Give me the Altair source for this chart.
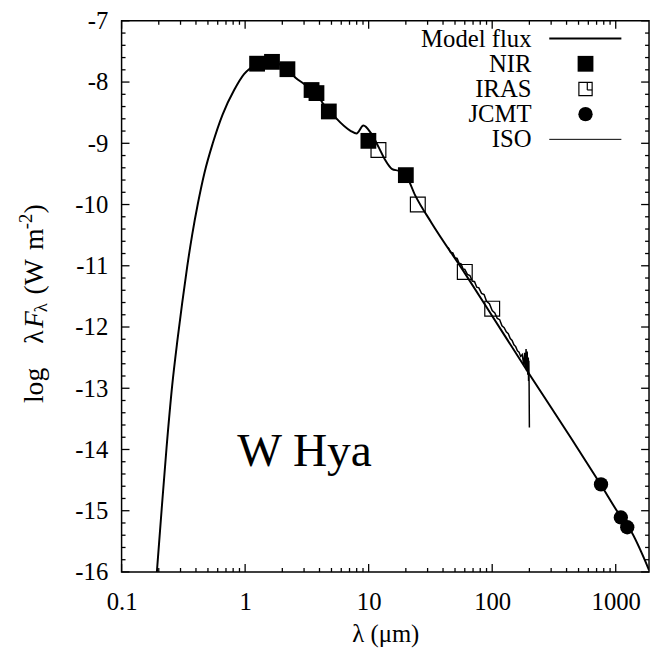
import altair as alt
import pandas as pd

# ---------------- data ----------------
model_wl = [0.193, 0.211, 0.231, 0.257, 0.283, 0.309, 0.34, 0.373, 0.415, 0.469, 0.547, 0.657,
            0.815, 0.98, 1.12, 1.25, 1.45, 1.65, 1.9, 2.2, 2.53, 3.0, 3.5, 3.8,
            4.27, 4.8, 5.45, 7.18, 7.98, 9.07, 10.4, 12.1, 13.5, 15.5, 17.5, 20.0,
            23.8, 32.3, 60, 100, 200, 437, 760, 1100, 1300, 1860]
model_lf = [-16.0, -14.98, -13.98, -12.95, -12.22, -11.62, -11.01, -10.49, -9.98, -9.48, -9.00, -8.53,
            -8.13, -7.87, -7.76, -7.69, -7.65, -7.66, -7.71, -7.79, -7.92, -8.03, -8.13, -8.19,
            -8.35, -8.46, -8.59, -8.80, -8.84, -8.71, -8.83, -9.07, -9.26, -9.42, -9.45, -9.52,
            -9.85, -10.30, -11.12, -11.82, -12.77, -13.82, -14.58, -15.10, -15.30, -15.97]

nir_wl = [1.25, 1.65, 2.2, 3.45, 3.78, 4.76, 9.95, 20.0]
nir_lf = [-7.70, -7.67, -7.79, -8.13, -8.18, -8.48, -8.96, -9.52]

iras_wl = [12, 25, 60, 100]
iras_lf = [-9.11, -10.0, -11.10, -11.70]

jcmt_wl = [760, 1100, 1240]
jcmt_lf = [-14.57, -15.11, -15.27]

iso_wl = [44, 46, 48, 50, 52, 54, 56, 58, 60, 63, 66, 69, 72, 75, 78, 82, 86, 90, 95,
          100, 105, 110, 115, 120, 125, 130, 135, 140, 145, 150, 155, 160, 165, 170,
          175, 180, 183, 186, 188, 190, 192, 194, 196, 197, 198, 199, 200]
iso_lf = [-10.70, -10.78, -10.79, -10.87, -10.88, -10.96, -10.97, -11.05, -11.06, -11.14,
          -11.16, -11.25, -11.26, -11.35, -11.36, -11.45, -11.47, -11.58, -11.62,
          -11.73, -11.77, -11.86, -11.88, -11.98, -12.01, -12.08, -12.11, -12.19, -12.22,
          -12.29, -12.32, -12.39, -12.41, -12.48, -12.45, -12.62, -12.42, -12.66, -12.36,
          -12.72, -12.40, -12.78, -12.50, -12.88, -12.55, -12.95, -13.64]

x_major = [0.1, 1, 10, 100, 1000]
x_minor = [m * 10.0 ** e for e in range(-1, 4) for m in range(2, 10) if m * 10.0 ** e < 1860]
y_major = list(range(-16, -6))
y_minor = [round(-16 + 0.2 * i, 1) for i in range(46) if (i % 5) != 0]

legend_labels = ["Model flux", "NIR", "IRAS", "JCMT", "ISO"]
star_name = "W Hya"

# ---------------- layout constants ----------------
W, H = 534, 558
FONT = 'Liberation Serif, "Times New Roman", Times, serif'
FS = 25

xscale = alt.Scale(type="log", domain=[0.1, 1860], nice=False)
yscale = alt.Scale(domain=[-16, -7], nice=False, zero=False)

xaxis = alt.Axis(values=x_major, format="~g", ticks=False, domain=False, grid=False,
                 labelFont=FONT, labelFontSize=FS, labelColor="black", labelPadding=18,
                 labelFlush=False, labelOverlap=False,
                 title="λ (μm)", titleFont=FONT, titleFontSize=FS, titleFontWeight="normal",
                 titleColor="black", titlePadding=7)
yaxis = alt.Axis(values=y_major, labelExpr="toString(datum.value)", ticks=False, domain=False,
                 grid=False, labelFont=FONT, labelFontSize=FS, labelColor="black",
                 labelPadding=14, labelFlush=False, labelOverlap=False, title=None)

X = lambda f: alt.X(f"{f}:Q", scale=xscale, axis=xaxis)
Y = lambda f: alt.Y(f"{f}:Q", scale=yscale, axis=yaxis)

model_df = pd.DataFrame({"wl": model_wl, "lf": model_lf})
nir_df = pd.DataFrame({"wl": nir_wl, "lf": nir_lf})
iras_df = pd.DataFrame({"wl": iras_wl, "lf": iras_lf})
jcmt_df = pd.DataFrame({"wl": jcmt_wl, "lf": jcmt_lf})
iso_df = pd.DataFrame({"wl": iso_wl, "lf": iso_lf, "i": list(range(len(iso_wl)))})

model = alt.Chart(model_df).mark_line(color="black", strokeWidth=2, interpolate="monotone",
                                      clip=True).encode(x=X("wl"), y=Y("lf"))
iso = alt.Chart(iso_df).mark_line(color="black", strokeWidth=1.5, clip=True).encode(
    x=X("wl"), y=Y("lf"), order="i:Q")
nir = alt.Chart(nir_df).mark_point(shape="square", filled=True, color="black", size=256,
                                   opacity=1).encode(x=X("wl"), y=Y("lf"))
iras = alt.Chart(iras_df).mark_point(shape="square", filled=False, color="black", size=225,
                                     strokeWidth=1.2, opacity=1).encode(x=X("wl"), y=Y("lf"))
jcmt = alt.Chart(jcmt_df).mark_point(shape="circle", filled=True, color="black", size=210,
                                     opacity=1).encode(x=X("wl"), y=Y("lf"))

# ---------------- inward ticks on all four sides ----------------
def xticks(vals, length):
    d = pd.DataFrame({"wl": vals})
    bot = alt.Chart(d).mark_rule(color="black", strokeWidth=1.3).encode(
        x=X("wl"), y=alt.value(H), y2=alt.value(H - length))
    top = alt.Chart(d).mark_rule(color="black", strokeWidth=1.3).encode(
        x=X("wl"), y=alt.value(0), y2=alt.value(length))
    return [bot, top]

def yticks(vals, length):
    d = pd.DataFrame({"lf": vals})
    left = alt.Chart(d).mark_rule(color="black", strokeWidth=1.3).encode(
        y=Y("lf"), x=alt.value(0), x2=alt.value(length))
    right = alt.Chart(d).mark_rule(color="black", strokeWidth=1.3).encode(
        y=Y("lf"), x=alt.value(W), x2=alt.value(W - length))
    return [left, right]

ticks = xticks(x_major, 8) + xticks(x_minor, 4) + yticks(y_major, 8) + yticks(y_minor, 4)

one = pd.DataFrame({"k": [0]})

# ---------------- legend (gnuplot style) ----------------
leg_y = [18, 43.5, 69, 94.5, 120]
leg_text_x = 415
leg = []
for lab, yy in zip(legend_labels, leg_y):
    leg.append(alt.Chart(one).mark_text(align="right", baseline="middle", font=FONT,
                                        fontSize=FS, color="black").encode(
        x=alt.value(leg_text_x), y=alt.value(yy), text=alt.value(lab)))
leg.append(alt.Chart(one).mark_rule(color="black", strokeWidth=2).encode(
    x=alt.value(433), x2=alt.value(506), y=alt.value(leg_y[0])))
leg.append(alt.Chart(one).mark_rule(color="black", strokeWidth=1).encode(
    x=alt.value(433), x2=alt.value(506), y=alt.value(leg_y[4])))
leg.append(alt.Chart(one).mark_point(shape="square", filled=True, color="black", size=256,
                                     opacity=1).encode(x=alt.value(469.7), y=alt.value(leg_y[1])))
leg.append(alt.Chart(one).mark_point(shape="square", filled=False, color="black", size=180,
                                     strokeWidth=1.2, opacity=1).encode(
    x=alt.value(469.7), y=alt.value(leg_y[2])))
leg.append(alt.Chart(one).mark_rule(color="black", strokeWidth=1.2).encode(
    x=alt.value(471.5), y=alt.value(leg_y[2] - 6.7), y2=alt.value(leg_y[2] + 1)))
leg.append(alt.Chart(one).mark_rule(color="black", strokeWidth=1.2).encode(
    x=alt.value(471.5), x2=alt.value(476.4), y=alt.value(leg_y[2] + 1)))
leg.append(alt.Chart(one).mark_point(shape="circle", filled=True, color="black", size=210,
                                     opacity=1).encode(x=alt.value(469.7), y=alt.value(leg_y[3])))

# ---------------- star name ----------------
name = alt.Chart(one).mark_text(align="left", baseline="alphabetic", font=FONT, fontSize=48,
                                color="black").encode(
    x=alt.value(117), y=alt.value(451), text=alt.value(star_name))

# ---------------- y-axis title with sub/superscripts ----------------
TX = -88
ytitle_parts = [
    ("log", 387, 0, 28, "normal"),
    ("λ", 327, 0, 28, "normal"),
    ("F", 311, 0, 28, "italic"),
    ("λ", 295, 6, 19, "normal"),
    ("(W", 277, 0, 28, "normal"),
    ("m", 232, 0, 28, "normal"),
    ("-2", 211, -9, 19, "normal"),
    (")", 195, 0, 28, "normal"),
]
ytitle = []
for txt, yy, dx, fs, style in ytitle_parts:
    ytitle.append(alt.Chart(one).mark_text(align="left", baseline="middle", angle=270,
                                           font=FONT, fontSize=fs, fontStyle=style,
                                           color="black").encode(
        x=alt.value(TX + dx), y=alt.value(yy), text=alt.value(txt)))

chart = alt.layer(model, iso, nir, iras, jcmt, *ticks, *leg, name, *ytitle).properties(
    width=W, height=H,
    autosize=alt.AutoSizeParams(type="none"),
    padding={"left": 115, "top": 9, "right": 2, "bottom": 73},
).configure(background="white", font=FONT).configure_view(
    stroke="black", strokeWidth=1.5
).configure_axis(labelFont=FONT, titleFont=FONT).configure_text(font=FONT)

chart.save("out.html", embed_options={"renderer": "svg", "actions": False})
